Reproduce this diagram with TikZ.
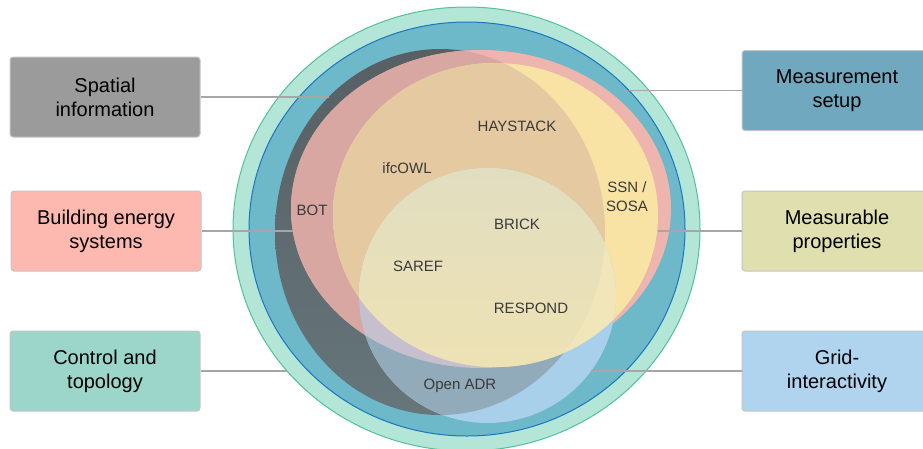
\documentclass[tikz,border=0pt]{standalone}
\usepackage{fontspec}
\setmainfont{Liberation Sans}
\definecolor{mint}{HTML}{B3E6D7}
\definecolor{mintline}{HTML}{4FC29B}
\definecolor{teal1}{HTML}{6DB8C9}
\definecolor{tealline}{HTML}{1B75BF}
\definecolor{darkA}{HTML}{575F63}
\definecolor{darkB}{HTML}{66767B}
\definecolor{pinkA}{HTML}{EDB5AE}
\definecolor{pinkD}{HTML}{D8A7A1}
\definecolor{yelA}{HTML}{F8E3A4}
\definecolor{yelD}{HTML}{E5CAA1}
\definecolor{bluA}{HTML}{A9D0EA}
\definecolor{bluD}{HTML}{91ABBA}
\definecolor{bluP}{HTML}{C6C0CE}
\definecolor{bluY}{HTML}{F1E6B9}
\definecolor{bluYD}{HTML}{D9DBC8}
\definecolor{bluYL}{HTML}{F1E3B1}
\definecolor{boxGray}{HTML}{9B9B9B}
\definecolor{boxPink}{HTML}{FDB9B0}
\definecolor{boxMint}{HTML}{9CD6CB}
\definecolor{boxTeal}{HTML}{6FA8BF}
\definecolor{boxYel}{HTML}{E0DFB0}
\definecolor{boxBlue}{HTML}{B1D4EE}
\definecolor{boxEdge}{HTML}{C4C4C4}
\definecolor{conn}{HTML}{A6A6A6}
\definecolor{lbl}{HTML}{3A3A3A}
\pgfdeclareradialshading{tanshade}{\pgfpoint{0bp}{0bp}}{color(0bp)=(yelD); color(32bp)=(yelD); color(50bp)=(yelA)}
\def\shMint{(466.5,229) ellipse [x radius=233.5pt, y radius=222pt]}
\def\shTeal{(467,229) ellipse [x radius=218pt, y radius=207pt]}
\def\shDark{(440,232) ellipse [x radius=165pt, y radius=183pt]}
\def\shPink{(481,209) ellipse [x radius=190pt, y radius=159pt]}
\def\shYel{(495.5,215) ellipse [x radius=162.5pt, y radius=152pt]}
\def\shBlu{(487.5,295.5) ellipse [x radius=128.5pt, y radius=127.5pt]}
\tikzset{
  catbox/.style={rectangle, rounded corners=3pt, draw=boxEdge, line width=1pt,
    minimum width=190pt, minimum height=80pt, align=center, text=black,
    font=\fontsize{20}{23.7}\selectfont},
  onto/.style={font=\fontsize{15}{19}\selectfont, text=lbl, align=center},
  link/.style={draw=conn, line width=1.5pt}
}
\begin{document}
\begin{tikzpicture}[x=1pt,y=-1pt]
\useasboundingbox (0,0) rectangle (923,448);
% rings
\fill[mint, draw=mintline, line width=1pt] \shMint;
\fill[teal1, draw=tealline, line width=1pt] \shTeal;
% dark
\shade[top color=darkA, bottom color=darkB] \shDark;
% pink
\fill[pinkA] \shPink;
\begin{scope}\clip \shPink; \fill[pinkD] \shDark; \end{scope}
% yellow
\fill[yelA] \shYel;
\begin{scope}\clip \shDark; \shade[shading=tanshade] \shYel; \end{scope}
% light blue
\fill[bluA] \shBlu;
\begin{scope}\clip \shBlu; \fill[bluD] \shDark; \end{scope}
\begin{scope}\clip \shBlu; \clip \shPink; \fill[bluP] \shDark; \end{scope}
\begin{scope}\clip \shBlu; \fill[bluY] \shYel; \end{scope}
\begin{scope}\clip \shBlu; \clip \shYel; \shade[top color=bluYD, bottom color=bluYL] \shDark; \end{scope}
% inner labels
\node[onto] (bot) at (312,210) {BOT};
\node[onto] (hay) at (517,126) {HAYSTACK};
\node[onto] (ifc) at (407,168) {ifcOWL};
\node[onto] (ssn) at (627,196.5) {SSN /\\SOSA};
\node[onto] (brick) at (517,224) {BRICK};
\node[onto] (saref) at (418,266) {SAREF};
\node[onto] (respond) at (531,308) {RESPOND};
\node[onto] (adr) at (460,386) {Open ADR};
% boxes
\node[catbox, fill=boxGray] (spatial) at (105,97) {Spatial\\information};
\node[catbox, fill=boxPink] (building) at (106,231) {Building energy\\systems};
\node[catbox, fill=boxMint] (control) at (105,371) {Control and\\topology};
\node[catbox, fill=boxTeal] (measure) at (837,90.5) {Measurement\\setup};
\node[catbox, fill=boxYel] (props) at (837,231) {Measurable\\properties};
\node[catbox, fill=boxBlue] (grid) at (837,371) {Grid-\\interactivity};
% connector ends
\coordinate (eSpatial) at (328.6,97);
\coordinate (eBuilding) at (292.8,231);
\coordinate (eControl) at (287,371);
\coordinate (eMeasure) at (628.5,90.5);
\coordinate (eProps) at (658,231);
\coordinate (eGrid) at (591,371);
\draw[link] (spatial.east) -- (eSpatial);
\draw[link] (building.east) -- (eBuilding);
\draw[link] (control.east) -- (eControl);
\draw[link] (measure.west) -- (eMeasure);
\draw[link] (props.west) -- (eProps);
\draw[link] (grid.west) -- (eGrid);
\end{tikzpicture}
\end{document}
